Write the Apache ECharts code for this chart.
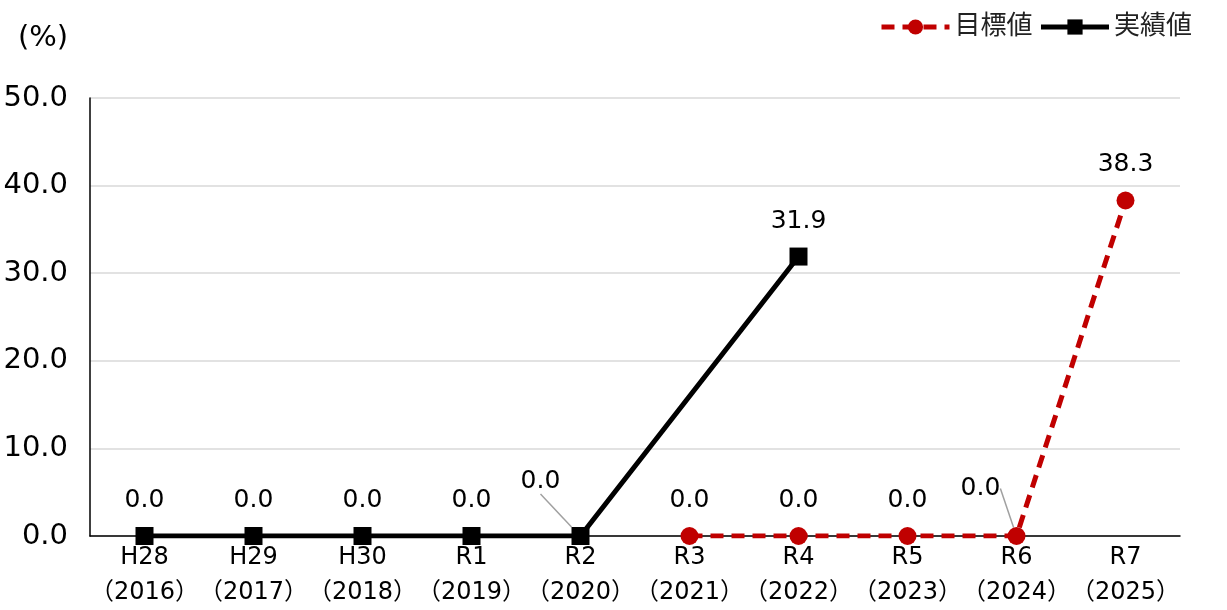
<!DOCTYPE html>
<html>
<head>
<meta charset="utf-8">
<script src="https://cdn.jsdelivr.net/npm/echarts@6/dist/echarts.min.js"></script>
<style>
  html, body { margin: 0; padding: 0; background: #fff; }
  #chart { width: 1227px; height: 610px; }
</style>
</head>
<body>
<div id="chart"></div>
<script>
const categories = ["H28\n（2016）", "H29\n（2017）", "H30\n（2018）", "R1\n（2019）", "R2\n（2020）",
  "R3\n（2021）", "R4\n（2022）", "R5\n（2023）", "R6\n（2024）", "R7\n（2025）"];
const targetValues = [null, null, null, null, null, 0, 0, 0, 0, 38.3];
const actualValues = [0, 0, 0, 0, 0, null, 31.9, null, null, null];
const yTicks = [0, 10, 20, 30, 40, 50];

const font = '"DejaVu Sans", "Noto Sans CJK JP", sans-serif';
const chart = echarts.init(document.getElementById("chart"));

// labels pushed up-left with a leader line
const shifted = { actual: { 4: [-40, -19] }, target: { 8: [-36, -12] } };

const withLeaders = (vals, moves) =>
  vals.map((v, i) => (moves[i] ? { value: v, labelLine: { show: true } } : v));

const labelFmt = (p) => (p.value == null ? "" : Number(p.value).toFixed(1));

const dataLabel = {
  show: true,
  position: "top",
  distance: 14,
  color: "#000",
  fontSize: 25,
  fontFamily: font,
  formatter: labelFmt,
};

chart.setOption({
  animation: false,
  textStyle: { fontFamily: font },
  title: {
    text: "(%)",
    left: 13,
    top: 19,
    textStyle: { fontSize: 29, fontWeight: "normal", color: "#000", fontFamily: font },
  },
  legend: {
    right: 30,
    top: 9,
    itemWidth: 68,
    itemHeight: 19,
    itemGap: 6,
    textStyle: { fontSize: 26, color: "#222", fontFamily: font },
    lineStyle: { width: 5 },
    data: ["目標値", "実績値"],
  },
  grid: { left: 90, right: 47, top: 98, bottom: 73 },
  xAxis: {
    type: "category",
    data: categories,
    boundaryGap: true,
    axisLine: { lineStyle: { color: "#000", width: 1.5 } },
    axisTick: { show: false },
    axisLabel: {
      interval: 0,
      color: "#000",
      fontSize: 24,
      lineHeight: 35,
      margin: 4,
      fontFamily: font,
    },
  },
  yAxis: {
    type: "value",
    min: yTicks[0],
    max: yTicks[yTicks.length - 1],
    interval: 10,
    axisLine: { show: true, lineStyle: { color: "#000", width: 1.5 } },
    axisTick: { show: false },
    splitLine: { lineStyle: { color: "#d9d9d9", width: 1.5 } },
    axisLabel: {
      color: "#000",
      fontSize: 29,
      margin: 22,
      fontFamily: font,
      formatter: (v) => v.toFixed(1),
    },
  },
  series: [
    {
      name: "目標値",
      type: "line",
      data: withLeaders(targetValues, shifted.target),
      z: 3,
      symbol: "circle",
      symbolSize: 18,
      itemStyle: { color: "#c00000" },
      lineStyle: { color: "#c00000", width: 5, type: [13, 8] },
      label: dataLabel,
      labelLine: { show: false, lineStyle: { color: "#a0a0a0", width: 1.5 } },
      labelLayout: (p) => {
        const s = shifted.target[p.dataIndex];
        return s ? { dx: s[0], dy: s[1] } : {};
      },
    },
    {
      name: "実績値",
      type: "line",
      data: withLeaders(actualValues, shifted.actual),
      connectNulls: true,
      z: 4,
      symbol: "rect",
      symbolSize: 18,
      itemStyle: { color: "#000" },
      lineStyle: { color: "#000", width: 5 },
      label: dataLabel,
      labelLine: { show: false, lineStyle: { color: "#a0a0a0", width: 1.5 } },
      labelLayout: (p) => {
        const s = shifted.actual[p.dataIndex];
        return s ? { dx: s[0], dy: s[1] } : {};
      },
    },
  ],
});
</script>
</body>
</html>
